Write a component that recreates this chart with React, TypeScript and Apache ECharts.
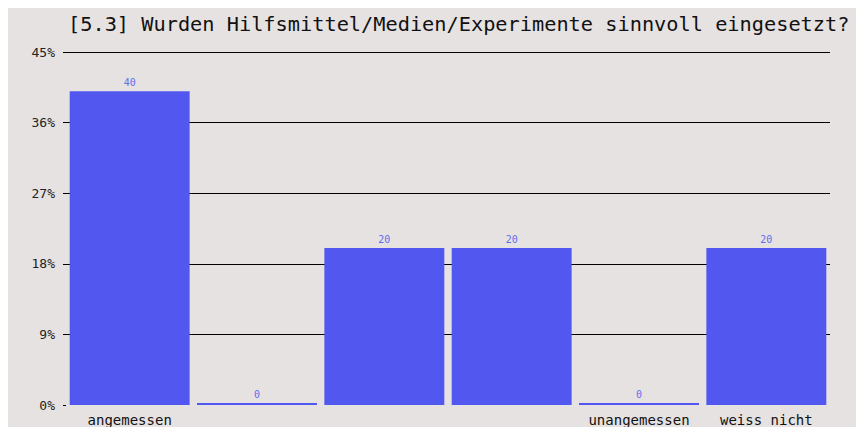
import React, { useEffect, useRef } from "react";
import * as echarts from "echarts";

const titleText = "[5.3] Wurden Hilfsmittel/Medien/Experimente sinnvoll eingesetzt?";
const categories = ["angemessen", "", "", "", "unangemessen", "weiss nicht"];
const values = [40, 0, 20, 20, 0, 20];
const yTicks = [0, 9, 18, 27, 36, 45];

export default function App() {
  const ref = useRef<HTMLDivElement>(null);
  useEffect(() => {
    if (!ref.current) return;
    const chart = echarts.init(ref.current, null, { renderer: "svg" });
    const mono = "DejaVu Sans Mono";
    chart.setOption({
      animation: false,
      backgroundColor: "#e6e2e1",
      title: {
        text: titleText,
        left: 60,
        top: 6,
        padding: 0,
        textStyle: { fontFamily: mono, fontSize: 20.3, fontWeight: "normal", color: "#111" },
      },
      grid: { left: 58, right: 26, top: 44, bottom: 21, containLabel: false },
      xAxis: {
        type: "category",
        data: categories,
        axisLine: { show: false },
        axisTick: { show: false },
        axisLabel: { margin: 8, fontFamily: mono, fontSize: 14, color: "#111", interval: 0 },
      },
      yAxis: {
        type: "value",
        min: yTicks[0],
        max: yTicks[yTicks.length - 1],
        interval: 9,
        axisLine: { show: false },
        axisTick: { show: true, length: 3, lineStyle: { color: "#000" } },
        axisLabel: {
          margin: 11,
          fontFamily: mono,
          fontSize: 13,
          color: "#222",
          formatter: (v: number) => v + "%",
        },
        splitLine: {
          show: true,
          lineStyle: { color: ["rgba(0,0,0,0)", "#000", "#000", "#000", "#000", "#000"], width: 1 },
        },
      },
      series: [
        {
          type: "bar",
          data: values,
          barCategoryGap: "5.8%",
          barMinHeight: 2,
          itemStyle: { color: "#5157ef" },
          label: {
            show: true,
            position: "top",
            distance: 4,
            fontFamily: mono,
            fontSize: 10,
            color: "#5f6ef0",
          },
        },
      ],
    });
    return () => chart.dispose();
  }, []);
  return (
    <div
      ref={ref}
      style={{ position: "absolute", left: 8, top: 8, width: 848, height: 419 }}
    />
  );
}
